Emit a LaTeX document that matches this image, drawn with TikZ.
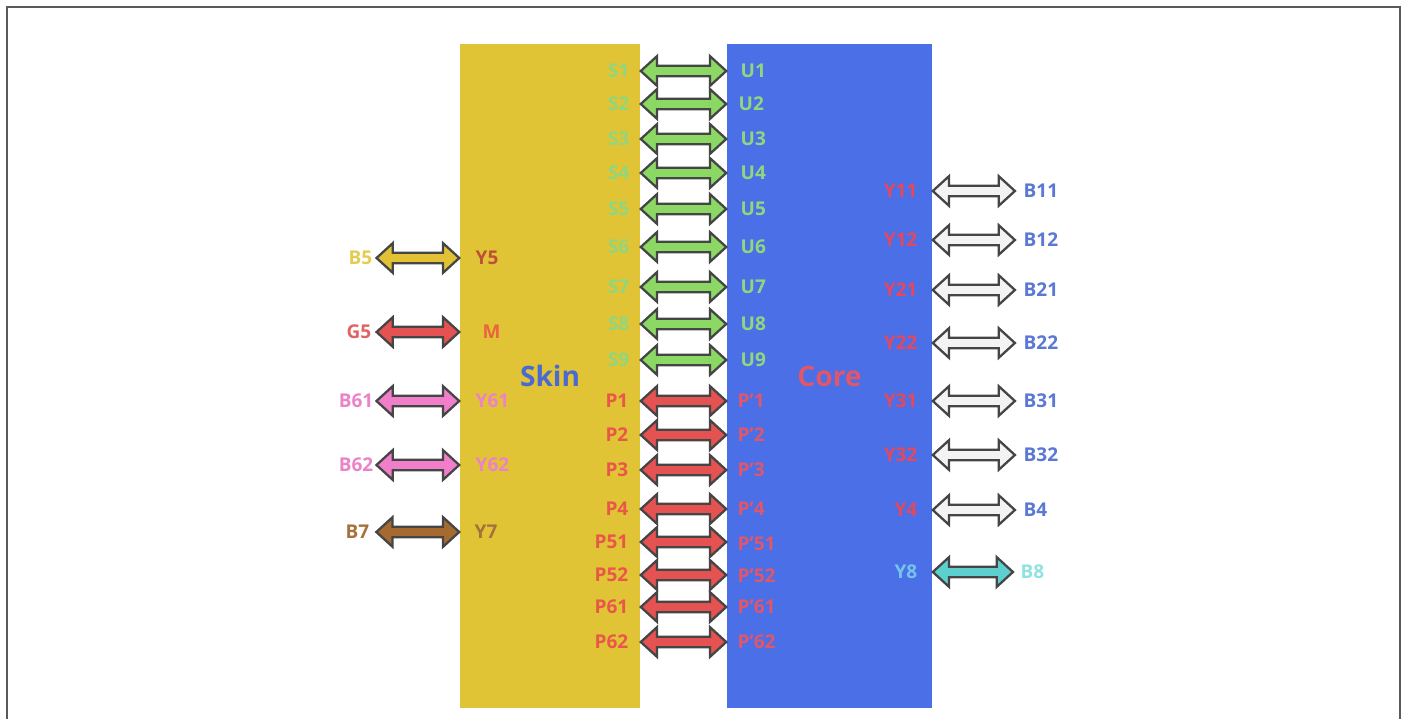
\documentclass[tikz,border=0pt]{standalone}
\usepackage{fontspec}
\setmainfont{Open Sans}
\usetikzlibrary{calc}

\definecolor{skinfill}{HTML}{E1C435}
\definecolor{corefill}{HTML}{4B6FE6}
\definecolor{framegray}{HTML}{5A5A5A}
\definecolor{edgegray}{HTML}{454545}
% arrow fills
\definecolor{agreen}{HTML}{8CD864}
\definecolor{ared}{HTML}{E55252}
\definecolor{ayellow}{HTML}{E2C134}
\definecolor{apink}{HTML}{F07EC8}
\definecolor{abrown}{HTML}{A66A30}
\definecolor{awhite}{HTML}{F3F3F3}
\definecolor{acyan}{HTML}{5ECFCF}
% label colours
\definecolor{tgreen}{HTML}{8FD77E}
\definecolor{tred}{HTML}{E8574A}
\definecolor{trose}{HTML}{E0566A}
\definecolor{tcrimson}{HTML}{E3485E}
\definecolor{tblue}{HTML}{5A78D4}
\definecolor{tskin}{HTML}{4A6AD2}
\definecolor{tyellow}{HTML}{E5CC50}
\definecolor{trust}{HTML}{BF5038}
\definecolor{tsalmon}{HTML}{E06464}
\definecolor{torange}{HTML}{EA6440}
\definecolor{tpink}{HTML}{EC82C8}
\definecolor{tbrown}{HTML}{A5723C}
\definecolor{tsky}{HTML}{74C4EC}
\definecolor{taqua}{HTML}{90E2E0}

\tikzset{
  lbl/.style={font=\fontsize{5.4}{6}\selectfont\bfseries, inner sep=0pt,
    text height=3.9pt, text depth=0pt},
  block/.style={minimum width=1.8cm, minimum height=6.64cm, inner sep=0pt,
    font=\fontsize{8}{9}\selectfont\bfseries},
  dblarrow/.style={draw=edgegray, line width=0.65pt, line join=miter, fill=#1,
    to path={let \p1=(\tikztostart), \p2=(\tikztotarget) in
      (\x1,\y1) -- (\x1+4.6pt,\y1+4.2pt) -- (\x1+4.6pt,\y1+1.5pt)
      -- (\x2-4.6pt,\y1+1.5pt) -- (\x2-4.6pt,\y1+4.2pt) -- (\x2,\y1)
      -- (\x2-4.6pt,\y1-4.2pt) -- (\x2-4.6pt,\y1-1.5pt)
      -- (\x1+4.6pt,\y1-1.5pt) -- (\x1+4.6pt,\y1-4.2pt) -- cycle}},
}

\begin{document}
\begin{tikzpicture}[x=0.01cm,y=-0.01cm]
\useasboundingbox (0,0) rectangle (1404,719);
\draw[framegray, line width=0.6pt] (7,719) -- (7,7) -- (1400,7) -- (1400,719);

% the two blocks
\node[block, fill=skinfill, text=tskin] (skin) at (550,376) {Skin};
\node[block, fill=corefill, text=trose, minimum width=2.05cm] (core) at (829.5,376) {Core};

% skin side of the middle links
\node[lbl, text=tgreen, anchor=east] (s1) at (630,71) {S1};
\node[lbl, text=tgreen, anchor=east] (s2) at (630,104) {S2};
\node[lbl, text=tgreen, anchor=east] (s3) at (630,139) {S3};
\node[lbl, text=tgreen, anchor=east] (s4) at (630,173) {S4};
\node[lbl, text=tgreen, anchor=east] (s5) at (630,209) {S5};
\node[lbl, text=tgreen, anchor=east] (s6) at (630,247) {S6};
\node[lbl, text=tgreen, anchor=east] (s7) at (630,287) {S7};
\node[lbl, text=tgreen, anchor=east] (s8) at (630,324) {S8};
\node[lbl, text=tgreen, anchor=east] (s9) at (630,360) {S9};
\node[lbl, text=tred, anchor=east] (p1) at (629,401) {P1};
\node[lbl, text=tred, anchor=east] (p2) at (629,435) {P2};
\node[lbl, text=tred, anchor=east] (p3) at (629,470) {P3};
\node[lbl, text=tred, anchor=east] (p4) at (629,509) {P4};
\node[lbl, text=tred, anchor=east] (p51) at (629,542) {P51};
\node[lbl, text=tred, anchor=east] (p52) at (629,575) {P52};
\node[lbl, text=tred, anchor=east] (p61) at (629,607) {P61};
\node[lbl, text=tred, anchor=east] (p62) at (629,642) {P62};

% core side of the middle links
\node[lbl, text=tgreen, anchor=west] (u1) at (740,71) {U1};
\node[lbl, text=tgreen, anchor=west] (u2) at (738,104) {U2};
\node[lbl, text=tgreen, anchor=west] (u3) at (740,139) {U3};
\node[lbl, text=tgreen, anchor=west] (u4) at (740,173) {U4};
\node[lbl, text=tgreen, anchor=west] (u5) at (740,209) {U5};
\node[lbl, text=tgreen, anchor=west] (u6) at (740,247) {U6};
\node[lbl, text=tgreen, anchor=west] (u7) at (740,287) {U7};
\node[lbl, text=tgreen, anchor=west] (u8) at (740,324) {U8};
\node[lbl, text=tgreen, anchor=west] (u9) at (740,360) {U9};
\node[lbl, text=trose, anchor=west] (q1) at (737,401) {P'1};
\node[lbl, text=trose, anchor=west] (q2) at (737,435) {P'2};
\node[lbl, text=trose, anchor=west] (q3) at (737,470) {P'3};
\node[lbl, text=trose, anchor=west] (q4) at (737,509) {P'4};
\node[lbl, text=trose, anchor=west] (q51) at (737,544) {P'51};
\node[lbl, text=trose, anchor=west] (q52) at (737,576) {P'52};
\node[lbl, text=trose, anchor=west] (q61) at (737,607) {P'61};
\node[lbl, text=trose, anchor=west] (q62) at (737,642) {P'62};

\draw[dblarrow=agreen] (skin.east |- s1) to (core.west |- u1);
\draw[dblarrow=agreen] (skin.east |- s2) to (core.west |- u2);
\draw[dblarrow=agreen] (skin.east |- s3) to (core.west |- u3);
\draw[dblarrow=agreen] (skin.east |- s4) to (core.west |- u4);
\draw[dblarrow=agreen] (skin.east |- s5) to (core.west |- u5);
\draw[dblarrow=agreen] (skin.east |- s6) to (core.west |- u6);
\draw[dblarrow=agreen] (skin.east |- s7) to (core.west |- u7);
\draw[dblarrow=agreen] (skin.east |- s8) to (core.west |- u8);
\draw[dblarrow=agreen] (skin.east |- s9) to (core.west |- u9);
\draw[dblarrow=ared] (skin.east |- p1) to (core.west |- q1);
\draw[dblarrow=ared] (skin.east |- p2) to (core.west |- q2);
\draw[dblarrow=ared] (skin.east |- p3) to (core.west |- q3);
\draw[dblarrow=ared] (skin.east |- p4) to (core.west |- q4);
\draw[dblarrow=ared] (skin.east |- p51) to (core.west |- q51);
\draw[dblarrow=ared] (skin.east |- p52) to (core.west |- q52);
\draw[dblarrow=ared] (skin.east |- p61) to (core.west |- q61);
\draw[dblarrow=ared] (skin.east |- p62) to (core.west |- q62);

% outer links of the skin
\node[lbl, text=tyellow, anchor=east] (b5) at (373,258) {B5};
\node[lbl, text=trust, anchor=west] (y5) at (475,258) {Y5};
\node[lbl, text=tsalmon, anchor=east] (g5) at (372,332) {G5};
\node[lbl, text=torange, anchor=west] (m) at (482,332) {M};
\node[lbl, text=tpink, anchor=east] (b61) at (374,401) {B61};
\node[lbl, text=tpink, anchor=west] (y61) at (475,401) {Y61};
\node[lbl, text=tpink, anchor=east] (b62) at (374,465) {B62};
\node[lbl, text=tpink, anchor=west] (y62) at (475,465) {Y62};
\node[lbl, text=tbrown, anchor=east] (b7) at (370,532) {B7};
\node[lbl, text=tbrown, anchor=west] (y7) at (474,532) {Y7};

\draw[dblarrow=ayellow] ([xshift=1pt]b5.east) to (skin.west |- y5);
\draw[dblarrow=ared] ([xshift=1.3pt]g5.east) to (skin.west |- m);
\draw[dblarrow=apink] ([xshift=0.7pt]b61.east) to (skin.west |- y61);
\draw[dblarrow=apink] ([xshift=0.7pt]b62.east) to (skin.west |- y62);
\draw[dblarrow=abrown] ([xshift=1.8pt]b7.east) to (skin.west |- y7);

% outer links of the core
\node[lbl, text=tcrimson, anchor=east] (y11) at (918,191) {Y11};
\node[lbl, text=tcrimson, anchor=east] (y12) at (918,240) {Y12};
\node[lbl, text=tcrimson, anchor=east] (y21) at (918,290) {Y21};
\node[lbl, text=tcrimson, anchor=east] (y22) at (918,343) {Y22};
\node[lbl, text=tcrimson, anchor=east] (y31) at (918,401) {Y31};
\node[lbl, text=tcrimson, anchor=east] (y32) at (918,455) {Y32};
\node[lbl, text=tcrimson, anchor=east] (y4) at (918,510) {Y4};
\node[lbl, text=tsky, anchor=east] (y8) at (918,572) {Y8};
\node[lbl, text=tblue, anchor=west] (b11) at (1023,191) {B11};
\node[lbl, text=tblue, anchor=west] (b12) at (1023,240) {B12};
\node[lbl, text=tblue, anchor=west] (b21) at (1023,290) {B21};
\node[lbl, text=tblue, anchor=west] (b22) at (1023,343) {B22};
\node[lbl, text=tblue, anchor=west] (b31) at (1023,401) {B31};
\node[lbl, text=tblue, anchor=west] (b32) at (1023,455) {B32};
\node[lbl, text=tblue, anchor=west] (b4) at (1023,510) {B4};
\node[lbl, text=taqua, anchor=west] (b8) at (1020,572) {B8};

\draw[dblarrow=awhite] (core.east |- y11) to ([xshift=-2.3pt]b11.west);
\draw[dblarrow=awhite] (core.east |- y12) to ([xshift=-2.3pt]b12.west);
\draw[dblarrow=awhite] (core.east |- y21) to ([xshift=-2.3pt]b21.west);
\draw[dblarrow=awhite] (core.east |- y22) to ([xshift=-2.3pt]b22.west);
\draw[dblarrow=awhite] (core.east |- y31) to ([xshift=-2.3pt]b31.west);
\draw[dblarrow=awhite] (core.east |- y32) to ([xshift=-2.3pt]b32.west);
\draw[dblarrow=awhite] (core.east |- y4) to ([xshift=-2.3pt]b4.west);
\draw[dblarrow=acyan] (core.east |- y8) to ([xshift=-2pt]b8.west);
\end{tikzpicture}
\end{document}
